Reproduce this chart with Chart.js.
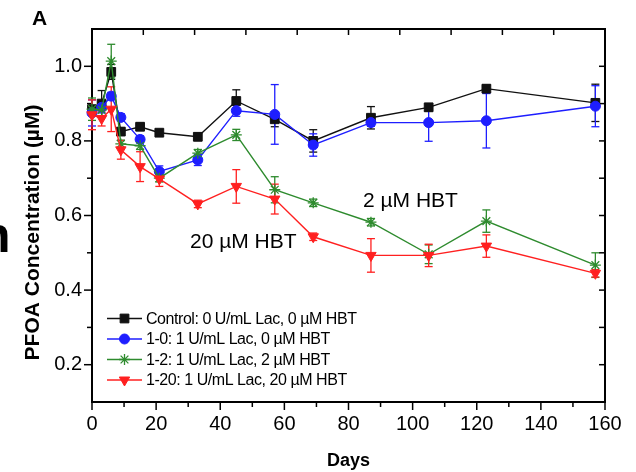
<!DOCTYPE html>
<html>
<head>
<meta charset="utf-8">
<script src="https://cdn.jsdelivr.net/npm/chart.js@4.4.1/dist/chart.umd.min.js"></script>
<style>
  html, body { margin: 0; padding: 0; background: #fff; }
  #wrap { width: 636px; height: 472px; }
</style>
</head>
<body>
<div id="wrap"><canvas id="chart" width="636" height="472"></canvas></div>
<script>
// Data
const days = [0, 3, 6, 9, 15, 21, 33, 45, 57, 69, 87, 105, 123, 157];

const controlVals = [0.885, 0.900, 0.985, 0.825, 0.838, 0.822, 0.811, 0.907, 0.858, 0.800, 0.862, 0.890, 0.940, 0.902];
const controlErr  = [0.010, 0.035, 0.020, 0.010, 0.010, 0.008, 0.010, 0.030, 0.020, 0.030, 0.030, 0.010, 0.010, 0.050];

const lac0Vals = [0.875, 0.890, 0.920, 0.863, 0.804, 0.718, 0.749, 0.881, 0.871, 0.789, 0.849, 0.849, 0.854, 0.893];
const lac0Err  = [0.035, 0.015, 0.010, 0.010, 0.010, 0.015, 0.015, 0.015, 0.080, 0.030, 0.010, 0.050, 0.073, 0.055];

const lac2Vals = [0.885, 0.883, 1.014, 0.792, 0.787, 0.700, 0.767, 0.816, 0.669, 0.634, 0.582, 0.496, 0.585, 0.467];
const lac2Err  = [0.030, 0.020, 0.045, 0.010, 0.010, 0.010, 0.010, 0.015, 0.035, 0.010, 0.010, 0.025, 0.030, 0.033];

const lac20Vals = [0.870, 0.860, 0.885, 0.776, 0.731, 0.698, 0.631, 0.678, 0.644, 0.543, 0.493, 0.493, 0.518, 0.445];
const lac20Err  = [0.040, 0.020, 0.060, 0.025, 0.040, 0.020, 0.010, 0.045, 0.040, 0.010, 0.045, 0.030, 0.030, 0.010];

const seriesLabels = [
  "Control: 0 U/mL Lac, 0 \u00b5M HBT",
  "1-0: 1 U/mL Lac, 0 \u00b5M HBT",
  "1-2: 1 U/mL Lac, 2 \u00b5M HBT",
  "1-20: 1 U/mL Lac, 20 \u00b5M HBT"
];

const xTicks = [0, 20, 40, 60, 80, 100, 120, 140, 160];
const yTicks = [0.2, 0.4, 0.6, 0.8, 1.0];

const FONT = '"Liberation Sans", Arial, sans-serif';

// Build datasets
function makeSet(label, vals, errs, color, style, radius, rotation, order) {
  return {
    label: label,
    data: days.map((d, i) => ({ x: d, y: vals[i] })),
    errors: errs,
    borderColor: color,
    backgroundColor: color,
    borderWidth: 1.4,
    pointStyle: style,
    pointRadius: radius,
    pointRotation: rotation,
    pointBorderWidth: style === "star" ? 1.3 : 1,
    pointBorderColor: color,
    pointBackgroundColor: color,
    tension: 0,
    clip: false,
    order: order
  };
}

const datasets = [
  makeSet(seriesLabels[0], controlVals, controlErr, "#111111", "rect", 6.2, 0, 4),
  makeSet(seriesLabels[1], lac0Vals, lac0Err, "#1e1eff", "circle", 5, 0, 3),
  makeSet(seriesLabels[2], lac2Vals, lac2Err, "#2e8b2e", "star", 5.5, 0, 2),
  makeSet(seriesLabels[3], lac20Vals, lac20Err, "#ff2020", "triangle", 6, 180, 1)
];

function line(ctx, x1, y1, x2, y2) {
  ctx.beginPath();
  ctx.moveTo(x1, y1);
  ctx.lineTo(x2, y2);
  ctx.stroke();
}

// Box frame and ticks (minor ticks are not built into the linear scale)
const framePlugin = {
  id: "frame",
  beforeDatasetsDraw(chart) {
    const { ctx, chartArea: a, scales: { x, y } } = chart;
    ctx.save();
    ctx.strokeStyle = "#000";
    ctx.lineWidth = 2;
    ctx.strokeRect(a.left, a.top, a.right - a.left, a.bottom - a.top);
    ctx.lineWidth = 1.5;
    // bottom: major every 20, minor every 10, outward
    for (let d = 0; d <= 160; d += 10) {
      const px = x.getPixelForValue(d);
      line(ctx, px, a.bottom, px, a.bottom + (d % 20 === 0 ? 8 : 5));
    }
    // top: every 16, inward
    for (let d = 16; d < 160; d += 16) {
      const px = x.getPixelForValue(d);
      line(ctx, px, a.top, px, a.top + 6);
    }
    // left: major 0.2, minor 0.1, outward
    for (let k = 2; k <= 10; k++) {
      const py = y.getPixelForValue(k / 10);
      line(ctx, a.left, py, a.left - (k % 2 === 0 ? 8 : 5), py);
    }
    // right: every 0.1, inward
    for (let k = 2; k <= 10; k++) {
      const py = y.getPixelForValue(k / 10);
      line(ctx, a.right, py, a.right - 6, py);
    }
    ctx.restore();
  }
};

// Vertical error bars with caps
const errorBarPlugin = {
  id: "errorBars",
  beforeDatasetsDraw(chart) {
    const { ctx, scales: { x, y } } = chart;
    ctx.save();
    ctx.lineWidth = 1.3;
    chart.data.datasets.forEach(ds => {
      ctx.strokeStyle = ds.borderColor;
      ds.data.forEach((p, i) => {
        const e = ds.errors[i];
        const px = x.getPixelForValue(p.x);
        const top = y.getPixelForValue(p.y + e);
        const bot = y.getPixelForValue(p.y - e);
        line(ctx, px, top, px, bot);
        line(ctx, px - 4, top, px + 4, top);
        line(ctx, px - 4, bot, px + 4, bot);
      });
    });
    ctx.restore();
  }
};

// Legend, axis titles and text labels
const textPlugin = {
  id: "texts",
  afterDraw(chart) {
    const { ctx } = chart;
    ctx.save();
    ctx.fillStyle = "#000";

    // legend
    const rowsY = [318.5, 339, 359.5, 380];
    chart.data.datasets.forEach((ds, i) => {
      const yy = rowsY[i];
      ctx.strokeStyle = ds.borderColor;
      ctx.lineWidth = 1.4;
      line(ctx, 107, yy, 142, yy);
      ctx.fillStyle = ds.borderColor;
      ctx.lineWidth = ds.pointBorderWidth;
      if (Chart.helpers && Chart.helpers.drawPoint) {
        Chart.helpers.drawPoint(ctx, {
          pointStyle: ds.pointStyle,
          radius: ds.pointRadius,
          rotation: ds.pointRotation,
          borderWidth: ds.pointBorderWidth
        }, 124.5, yy);
      }
      ctx.fillStyle = "#000";
      ctx.font = "16px " + FONT;
      ctx.letterSpacing = "-0.45px";
      ctx.textAlign = "left";
      ctx.textBaseline = "middle";
      ctx.fillText(ds.label, 146, yy + 1);
    });
    ctx.letterSpacing = "0px";

    // in-plot annotations
    ctx.font = "21px " + FONT;
    ctx.textAlign = "left";
    ctx.textBaseline = "middle";
    ctx.fillText("2 \u00b5M HBT", 363, 201);
    ctx.fillText("20 \u00b5M HBT", 190, 242.5);

    // panel letter
    ctx.font = "bold 21px " + FONT;
    ctx.textBaseline = "alphabetic";
    ctx.textAlign = "center";
    ctx.fillText("A", 39.5, 25);

    // x title
    ctx.font = "bold 18px " + FONT;
    ctx.fillText("Days", 348.5, 466);

    // y title
    ctx.translate(33, 232.5);
    ctx.rotate(-Math.PI / 2);
    ctx.font = "bold 21px " + FONT;
    ctx.textBaseline = "middle";
    ctx.fillText("PFOA Concentration (\u00b5M)", 0, 0);
    ctx.setTransform(1, 0, 0, 1, 0, 0);

    // cropped glyph at the left edge
    ctx.font = "bold 50px " + FONT;
    ctx.textAlign = "left";
    ctx.textBaseline = "alphabetic";
    ctx.fillText("n", -20, 252);

    ctx.restore();
  }
};

new Chart(document.getElementById("chart"), {
  type: "line",
  data: { datasets: datasets },
  options: {
    responsive: false,
    animation: false,
    layout: { padding: { left: 0, right: 31, top: 29, bottom: 0 } },
    plugins: {
      legend: { display: false },
      tooltip: { enabled: false }
    },
    scales: {
      x: {
        type: "linear",
        min: 0,
        max: 160,
        afterFit: s => { s.height = 70; },
        afterBuildTicks: s => { s.ticks = xTicks.map(v => ({ value: v })); },
        grid: { display: false, drawTicks: false },
        border: { display: false },
        ticks: {
          color: "#000",
          font: { family: FONT, size: 20 },
          padding: 10,
          maxRotation: 0,
          callback: v => String(v)
        }
      },
      y: {
        type: "linear",
        min: 0.1,
        max: 1.1,
        afterFit: s => { s.width = 92; },
        afterBuildTicks: s => { s.ticks = yTicks.map(v => ({ value: v })); },
        grid: { display: false, drawTicks: false },
        border: { display: false },
        ticks: {
          color: "#000",
          font: { family: FONT, size: 20 },
          padding: 10,
          callback: v => v.toFixed(1)
        }
      }
    }
  },
  plugins: [framePlugin, errorBarPlugin, textPlugin]
});
</script>
</body>
</html>
